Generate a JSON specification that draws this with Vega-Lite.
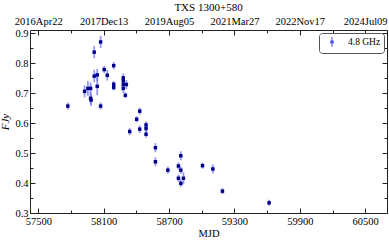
{
  "$schema": "https://vega.github.io/schema/vega-lite/v6.json",
  "width": 357,
  "height": 183,
  "autosize": "none",
  "padding": {"left": 30, "top": 30, "right": 2, "bottom": 27},
  "background": "white",
  "config": {
    "view": {"stroke": "#222", "strokeWidth": 1},
    "font": "Liberation Serif",
    "axis": {"domain": false, "grid": false, "labelFont": "Liberation Serif", "titleFont": "Liberation Serif", "labelColor": "#000", "titleColor": "#000", "tickColor": "#222", "labelFontSize": 10.5, "titleFontWeight": "normal"}
  },
  "title": {"text": "TXS 1300+580", "font": "Liberation Serif", "fontSize": 11, "fontWeight": "normal", "color": "#000", "offset": 1},
  "data": {"values": [
    {"mjd": 57771, "flux": 0.657, "err": 0.012, "band": "4.8 GHz"},
    {"mjd": 57925, "flux": 0.706, "err": 0.02, "band": "4.8 GHz"},
    {"mjd": 57955, "flux": 0.716, "err": 0.025, "band": "4.8 GHz"},
    {"mjd": 57980, "flux": 0.716, "err": 0.02, "band": "4.8 GHz"},
    {"mjd": 57980, "flux": 0.683, "err": 0.02, "band": "4.8 GHz"},
    {"mjd": 57985, "flux": 0.677, "err": 0.02, "band": "4.8 GHz"},
    {"mjd": 58013, "flux": 0.837, "err": 0.02, "band": "4.8 GHz"},
    {"mjd": 58013, "flux": 0.757, "err": 0.02, "band": "4.8 GHz"},
    {"mjd": 58041, "flux": 0.761, "err": 0.02, "band": "4.8 GHz"},
    {"mjd": 58041, "flux": 0.723, "err": 0.03, "band": "4.8 GHz"},
    {"mjd": 58072, "flux": 0.871, "err": 0.02, "band": "4.8 GHz"},
    {"mjd": 58072, "flux": 0.657, "err": 0.012, "band": "4.8 GHz"},
    {"mjd": 58105, "flux": 0.779, "err": 0.012, "band": "4.8 GHz"},
    {"mjd": 58133, "flux": 0.76, "err": 0.018, "band": "4.8 GHz"},
    {"mjd": 58192, "flux": 0.792, "err": 0.012, "band": "4.8 GHz"},
    {"mjd": 58192, "flux": 0.73, "err": 0.01, "band": "4.8 GHz"},
    {"mjd": 58192, "flux": 0.719, "err": 0.01, "band": "4.8 GHz"},
    {"mjd": 58280, "flux": 0.751, "err": 0.015, "band": "4.8 GHz"},
    {"mjd": 58280, "flux": 0.741, "err": 0.015, "band": "4.8 GHz"},
    {"mjd": 58280, "flux": 0.729, "err": 0.015, "band": "4.8 GHz"},
    {"mjd": 58308, "flux": 0.729, "err": 0.015, "band": "4.8 GHz"},
    {"mjd": 58280, "flux": 0.716, "err": 0.015, "band": "4.8 GHz"},
    {"mjd": 58299, "flux": 0.693, "err": 0.01, "band": "4.8 GHz"},
    {"mjd": 58339, "flux": 0.572, "err": 0.012, "band": "4.8 GHz"},
    {"mjd": 58403, "flux": 0.613, "err": 0.01, "band": "4.8 GHz"},
    {"mjd": 58431, "flux": 0.64, "err": 0.012, "band": "4.8 GHz"},
    {"mjd": 58431, "flux": 0.58, "err": 0.012, "band": "4.8 GHz"},
    {"mjd": 58489, "flux": 0.594, "err": 0.012, "band": "4.8 GHz"},
    {"mjd": 58489, "flux": 0.582, "err": 0.012, "band": "4.8 GHz"},
    {"mjd": 58489, "flux": 0.563, "err": 0.012, "band": "4.8 GHz"},
    {"mjd": 58575, "flux": 0.518, "err": 0.015, "band": "4.8 GHz"},
    {"mjd": 58575, "flux": 0.471, "err": 0.015, "band": "4.8 GHz"},
    {"mjd": 58689, "flux": 0.443, "err": 0.012, "band": "4.8 GHz"},
    {"mjd": 58786, "flux": 0.457, "err": 0.012, "band": "4.8 GHz"},
    {"mjd": 58808, "flux": 0.491, "err": 0.015, "band": "4.8 GHz"},
    {"mjd": 58808, "flux": 0.443, "err": 0.012, "band": "4.8 GHz"},
    {"mjd": 58786, "flux": 0.416, "err": 0.012, "band": "4.8 GHz"},
    {"mjd": 58832, "flux": 0.416, "err": 0.02, "band": "4.8 GHz"},
    {"mjd": 58808, "flux": 0.399, "err": 0.012, "band": "4.8 GHz"},
    {"mjd": 59007, "flux": 0.458, "err": 0.01, "band": "4.8 GHz"},
    {"mjd": 59102, "flux": 0.447, "err": 0.015, "band": "4.8 GHz"},
    {"mjd": 59190, "flux": 0.373, "err": 0.01, "band": "4.8 GHz"},
    {"mjd": 59618, "flux": 0.334, "err": 0.01, "band": "4.8 GHz"}
  ]},
  "layer": [
    {
      "mark": {"type": "errorbar", "ticks": false, "color": "#6b6bff", "opacity": 0.7, "thickness": 1.8},
      "encoding": {
        "x": {"field": "mjd", "type": "quantitative", "scale": {"domain": [57424, 60700], "nice": false, "zero": false},
          "axis": {"orient": "top", "title": null, "values": [57500,57800,58100,58400,58700,59000,59300,59600,59900,60200,60500],
            "tickSize": {"condition": {"test": "(datum.value-57500)%600==0", "value": -5}, "value": -3},
            "labelPadding": 9, "labelOverlap": false, "labelFlush": false,
            "labelExpr": "datum.value==57500?'2016Apr22':datum.value==58100?'2017Dec13':datum.value==58700?'2019Aug05':datum.value==59300?'2021Mar27':datum.value==59900?'2022Nov17':datum.value==60500?'2024Jul09':''"}},
        "y": {"field": "flux", "type": "quantitative", "scale": {"domain": [0.3, 0.911], "nice": false, "zero": false},
          "axis": {"orient": "right", "title": null, "labels": false, "values": [0.3,0.35,0.4,0.45,0.5,0.55,0.6,0.65,0.7,0.75,0.8,0.85,0.9],
            "tickSize": {"condition": {"test": "round(datum.value*100)%10==0", "value": -5}, "value": -3}}},
        "yError": {"field": "err"}
      }
    },
    {
      "mark": {"type": "square", "size": 12, "opacity": 1, "filled": true},
      "encoding": {
        "x": {"field": "mjd", "type": "quantitative",
          "axis": {"orient": "bottom", "title": "MJD", "titleFontSize": 10.5, "titlePadding": 0, "values": [57500,57800,58100,58400,58700,59000,59300,59600,59900,60200,60500],
            "tickSize": {"condition": {"test": "(datum.value-57500)%600==0", "value": -5}, "value": -3},
            "labelPadding": 8, "labelOverlap": false, "labelFlush": false,
            "labelExpr": "(datum.value-57500)%600==0 ? format(datum.value,'d') : ''"}},
        "y": {"field": "flux", "type": "quantitative",
          "axis": {"orient": "left", "title": "FJy", "titleFontStyle": "italic", "titleFontSize": 11, "titlePadding": 4, "values": [0.3,0.35,0.4,0.45,0.5,0.55,0.6,0.65,0.7,0.75,0.8,0.85,0.9],
            "tickSize": {"condition": {"test": "round(datum.value*100)%10==0", "value": -5}, "value": -3},
            "labelPadding": 7, "labelOverlap": false, "labelFlush": false,
            "labelExpr": "round(datum.value*100)%10==0 ? format(datum.value,'.1f') : ''"}},
        "color": {"field": "band", "type": "nominal", "scale": {"range": ["#00008b"]},
          "legend": {"title": null, "orient": "top-right", "offset": 3, "strokeColor": "#555", "cornerRadius": 3, "padding": 3, "fillColor": "white",
            "labelFont": "Liberation Serif", "labelFontSize": 9.5, "labelColor": "#000",
            "symbolType": "M0,-1L0,1M-0.3,0A0.3,0.3 0 1,1 0.3,0A0.3,0.3 0 1,1 -0.3,0Z", "symbolSize": 100,
            "symbolFillColor": "#00008b", "symbolStrokeColor": "#6b6bff", "symbolStrokeWidth": 1.2, "symbolOffset": 4, "labelOffset": 10}}
      }
    }
  ],
  "resolve": {"axis": {"x": "independent", "y": "independent"}}
}
